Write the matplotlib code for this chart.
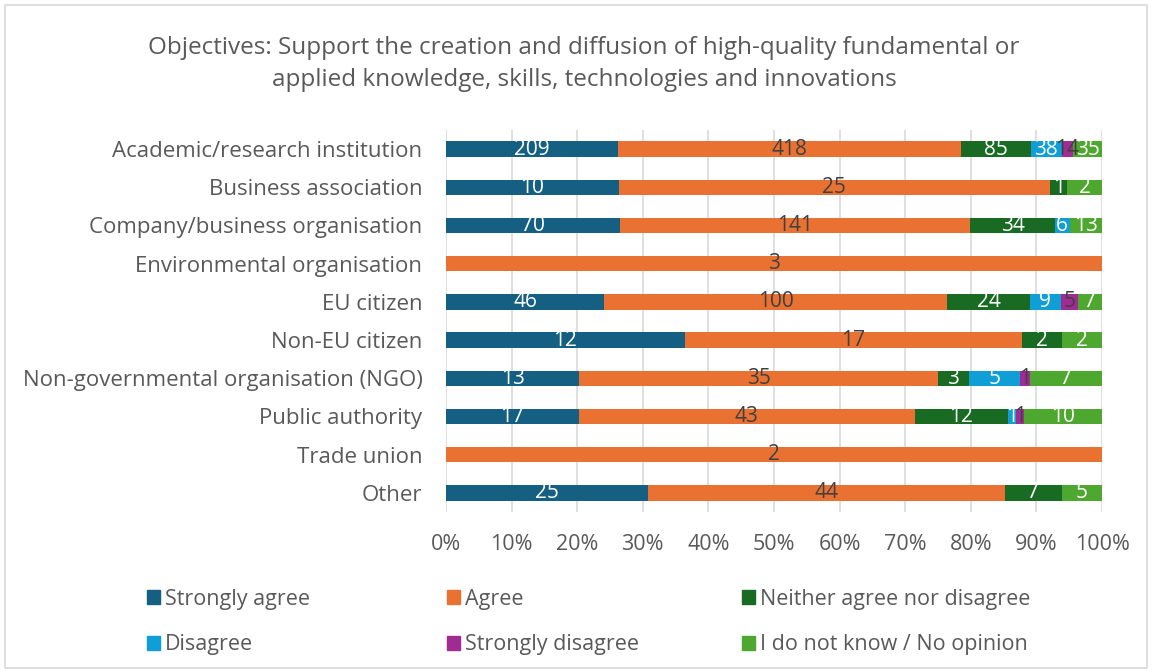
import numpy as np
import matplotlib.pyplot as plt
from matplotlib.ticker import PercentFormatter
from matplotlib.patches import Patch

plt.rcParams['font.family'] = ['Open Sans', 'DejaVu Sans']

categories = ['Academic/research institution', 'Business association',
              'Company/business organisation', 'Environmental organisation',
              'EU citizen', 'Non-EU citizen', 'Non-governmental organisation (NGO)',
              'Public authority', 'Trade union', 'Other']
series = ['Strongly agree', 'Agree', 'Neither agree nor disagree',
          'Disagree', 'Strongly disagree', 'I do not know / No opinion']
strongly_agree = [209, 10, 70, 0, 46, 12, 13, 17, 0, 25]
agree = [418, 25, 141, 3, 100, 17, 35, 43, 2, 44]
neither = [85, 1, 34, 0, 24, 2, 3, 12, 0, 7]
disagree = [38, 0, 6, 0, 9, 0, 5, 1, 0, 0]
strongly_disagree = [14, 0, 0, 0, 5, 0, 1, 1, 0, 0]
no_opinion = [35, 2, 13, 0, 7, 2, 7, 10, 0, 5]

colors = ['#156082', '#E97132', '#196B24', '#0F9ED5', '#A02B93', '#4EA72E']
label_colors = ['white', '#404040', 'white', 'white', '#404040', 'white']
text_grey = '#595959'

values = np.array([strongly_agree, agree, neither, disagree,
                   strongly_disagree, no_opinion], dtype=float)
totals = values.sum(axis=0)
shares = values / totals

fig = plt.figure(figsize=(11.52, 6.7), dpi=100)
ax = fig.add_axes([446 / 1152, 1 - 512 / 670, 656 / 1152, 382 / 670])

y = np.arange(len(categories))
left = np.zeros(len(categories))
for i, name in enumerate(series):
    ax.barh(y, shares[i], left=left, height=0.4, color=colors[i], label=name, zorder=3)
    for j in range(len(categories)):
        if values[i, j] > 0:
            ax.text(left[j] + shares[i, j] / 2, y[j], f'{int(values[i, j])}',
                    ha='center', va='center', fontsize=15, color=label_colors[i], zorder=4)
    left += shares[i]

ax.set_xlim(0, 1)
ax.set_ylim(len(categories) - 0.5, -0.5)
ax.set_yticks(y)
ax.set_yticklabels(categories)
ax.set_xticks(np.linspace(0, 1, 11))
ax.xaxis.set_major_formatter(PercentFormatter(1.0, decimals=0))
ax.tick_params(length=0, labelsize=15.5, colors=text_grey)
ax.tick_params(axis='y', labelsize=16, pad=17)
ax.tick_params(axis='x', pad=16)
ax.grid(axis='x', color='#d9d9d9', linewidth=1.2, zorder=0)
for s in ax.spines.values():
    s.set_visible(False)

fig.text(584 / 1152, 1 - 64 / 670,
         'Objectives: Support the creation and diffusion of high-quality fundamental or\n'
         'applied knowledge, skills, technologies and innovations',
         ha='center', va='center', fontsize=17.5, color=text_grey, linespacing=1.5)

# legend: Excel-style grid, rows filled left to right
col_x = [136, 436, 731]
for c in range(3):
    idx = [c, c + 3]
    handles = [Patch(color=colors[k]) for k in idx]
    fig.legend(handles, [series[k] for k in idx], loc='center left',
               bbox_to_anchor=(col_x[c] / 1152, 1 - 622 / 670), frameon=False,
               fontsize=15.5, labelcolor=text_grey, handlelength=0.6, handleheight=0.6,
               handletextpad=0.25, labelspacing=1.15, borderpad=0)

border = plt.Rectangle((0.004, 0.003), 0.992, 0.99, transform=fig.transFigure,
                       fill=False, edgecolor='#d9d9d9', linewidth=1.2)
fig.patches.append(border)

fig.savefig('out.png', dpi=100)
